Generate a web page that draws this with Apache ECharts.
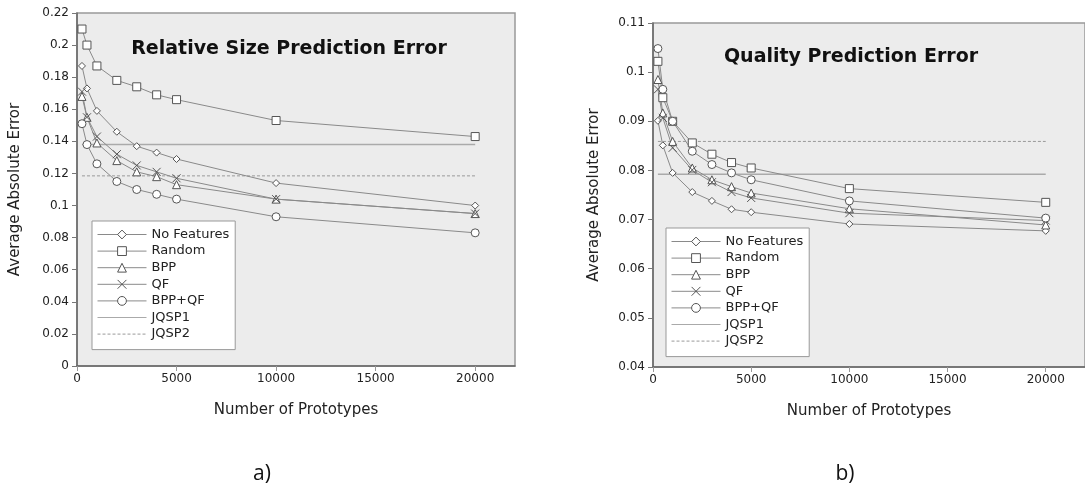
<!DOCTYPE html>
<html>
<head>
    <meta charset="utf-8">
    <title>Prediction error vs prototypes</title>
    <script type="text/javascript" src="https://cdn.jsdelivr.net/npm/echarts@6/dist/echarts.min.js"></script>
    <style>html,body{margin:0;padding:0;background:#fff;}</style>
</head>
<body>
<div id="main" style="width:1085px;height:489px;"></div>

<script type="text/javascript">
    // number of prototypes (x)
    var prototypes = [250, 500, 1000, 2000, 3000, 4000, 5000, 10000, 20000];
    var xTicks = [0, 5000, 10000, 15000, 20000];
    var names = ['No Features', 'Random', 'BPP', 'QF', 'BPP+QF', 'JQSP1', 'JQSP2'];

    // a) relative size prediction error
    var sizeNoFeatures = [0.187, 0.173, 0.159, 0.146, 0.137, 0.133, 0.129, 0.114, 0.100];
    var sizeRandom     = [0.210, 0.200, 0.187, 0.178, 0.174, 0.169, 0.166, 0.153, 0.143];
    var sizeBPP        = [0.168, 0.155, 0.139, 0.128, 0.121, 0.118, 0.113, 0.104, 0.095];
    var sizeQF         = [0.171, 0.155, 0.143, 0.132, 0.125, 0.121, 0.117, 0.104, 0.095];
    var sizeBPPQF      = [0.151, 0.138, 0.126, 0.115, 0.110, 0.107, 0.104, 0.093, 0.083];
    var sizeJQSP1 = 0.138;
    var sizeJQSP2 = 0.1185;

    // b) quality prediction error
    var qualNoFeatures = [0.0901, 0.0851, 0.0795, 0.0756, 0.0738, 0.0721, 0.0715, 0.0691, 0.0677];
    var qualRandom     = [0.1022, 0.0948, 0.0900, 0.0856, 0.0833, 0.0816, 0.0805, 0.0763, 0.0735];
    var qualBPP        = [0.0985, 0.0917, 0.0859, 0.0805, 0.0781, 0.0767, 0.0754, 0.0722, 0.0689];
    var qualQF         = [0.0965, 0.0907, 0.0846, 0.0801, 0.0776, 0.0756, 0.0744, 0.0713, 0.0698];
    var qualBPPQF      = [0.1048, 0.0965, 0.0900, 0.0839, 0.0812, 0.0795, 0.0781, 0.0738, 0.0703];
    var qualJQSP1 = 0.0792;
    var qualJQSP2 = 0.0859;

    var chart = echarts.init(document.getElementById('main'));

    var lineCol = '#8a8a8a';
    var markCol = '#555';
    var symbols = {
        'No Features': ['diamond', 7],
        'Random': ['rect', 8],
        'BPP': ['triangle', 8],
        'QF': ['path://M0,0L10,10M0,10L10,0', 8],
        'BPP+QF': ['circle', 8]
    };

    function pairs(vals) {
        return prototypes.map(function (x, i) { return [x, vals[i]]; });
    }

    function markerSeries(name, vals, idx) {
        return {
            name: name,
            type: 'line',
            xAxisIndex: idx,
            yAxisIndex: idx,
            data: pairs(vals),
            symbol: symbols[name][0],
            symbolSize: symbols[name][1],
            showAllSymbol: true,
            animation: false,
            lineStyle: {color: lineCol, width: 1},
            itemStyle: {color: '#fff', borderColor: markCol, borderWidth: 1}
        };
    }

    function flatSeries(name, val, idx, dashed) {
        return {
            name: name,
            type: 'line',
            xAxisIndex: idx,
            yAxisIndex: idx,
            data: [[prototypes[0], val], [prototypes[prototypes.length - 1], val]],
            symbol: 'none',
            animation: false,
            z: 1,
            lineStyle: {color: dashed ? '#999' : '#aaa', width: dashed ? 1 : 1.5, type: dashed ? [3, 2] : 'solid'},
            itemStyle: {color: dashed ? '#999' : '#aaa'}
        };
    }

    function xAxis(idx) {
        return {
            type: 'value', gridIndex: idx, min: 0, max: 22000,
            name: 'Number of Prototypes', nameLocation: 'middle', nameGap: 37,
            nameTextStyle: {fontFamily: 'DejaVu Sans', fontSize: 15, color: '#222'},
            axisLine: {lineStyle: {color: '#666', width: 1.5}},
            axisTick: {customValues: xTicks, length: 5, lineStyle: {color: '#999'}},
            axisLabel: {
                customValues: xTicks, fontFamily: 'DejaVu Sans', fontSize: 12, color: '#222', margin: 7,
                formatter: function (v) { return String(v); }
            },
            splitLine: {show: false}
        };
    }

    function yAxis(idx, min, max, step, gap) {
        return {
            type: 'value', gridIndex: idx, min: min, max: max, interval: step,
            name: 'Average Absolute Error', nameLocation: 'middle', nameGap: gap,
            nameTextStyle: {fontFamily: 'DejaVu Sans', fontSize: 15, color: '#222'},
            axisLine: {lineStyle: {color: '#666', width: 1.5}},
            axisTick: {length: 5, lineStyle: {color: '#777'}},
            axisLabel: {
                fontFamily: 'DejaVu Sans', fontSize: 12, color: '#222', margin: 8,
                formatter: function (v) { return String(Math.round(v * 100) / 100); }
            },
            splitLine: {show: false}
        };
    }

    function legend(left, top) {
        var items = names.map(function (n) {
            if (n.indexOf('JQSP') === 0) {
                return {name: n, itemStyle: {color: 'transparent', borderColor: 'transparent', borderWidth: 0}};
            }
            return {name: n};
        });
        return {
            data: items, orient: 'vertical', left: left, top: top,
            backgroundColor: '#fff', borderColor: '#999', borderWidth: 1,
            padding: [7, 6, 9, 5], itemWidth: 49, itemHeight: 11, itemGap: 3.6,
            textStyle: {fontFamily: 'DejaVu Sans', fontSize: 13, color: '#222'},
            lineStyle: {width: 1},
            itemStyle: {borderWidth: 1},
            selectedMode: false
        };
    }

    var titleFont = {fontFamily: 'DejaVu Sans', fontWeight: 'bold', fontSize: 19, fill: '#111'};

    var option = {
        backgroundColor: '#fff',
        animation: false,
        grid: [
            {left: 77, top: 13, width: 438, height: 353, show: true, backgroundColor: '#ececec', borderColor: '#999', borderWidth: 1.5},
            {left: 653, top: 23, width: 440, height: 344, show: true, backgroundColor: '#ececec', borderColor: '#999', borderWidth: 1.5}
        ],
        xAxis: [xAxis(0), xAxis(1)],
        yAxis: [yAxis(0, 0, 0.22, 0.02, 54), yAxis(1, 0.04, 0.11, 0.01, 51)],
        legend: [legend(92, 221), legend(666, 228)],
        graphic: [
            {type: 'text', style: Object.assign({text: 'Relative Size Prediction Error', x: 289, y: 49, textAlign: 'center', textVerticalAlign: 'middle'}, titleFont)},
            {type: 'text', style: Object.assign({text: 'Quality Prediction Error', x: 851, y: 57, textAlign: 'center', textVerticalAlign: 'middle'}, titleFont)},
            {type: 'text', style: {text: 'a)', x: 262, y: 474, textAlign: 'center', textVerticalAlign: 'middle', fontFamily: 'Open Sans', fontSize: 21, fill: '#111'}},
            {type: 'text', style: {text: 'b)', x: 845, y: 474, textAlign: 'center', textVerticalAlign: 'middle', fontFamily: 'Open Sans', fontSize: 21, fill: '#111'}}
        ],
        series: [
            flatSeries('JQSP1', sizeJQSP1, 0, false),
            flatSeries('JQSP2', sizeJQSP2, 0, true),
            markerSeries('No Features', sizeNoFeatures, 0),
            markerSeries('Random', sizeRandom, 0),
            markerSeries('BPP', sizeBPP, 0),
            markerSeries('QF', sizeQF, 0),
            markerSeries('BPP+QF', sizeBPPQF, 0),
            flatSeries('JQSP1', qualJQSP1, 1, false),
            flatSeries('JQSP2', qualJQSP2, 1, true),
            markerSeries('No Features', qualNoFeatures, 1),
            markerSeries('Random', qualRandom, 1),
            markerSeries('BPP', qualBPP, 1),
            markerSeries('QF', qualQF, 1),
            markerSeries('BPP+QF', qualBPPQF, 1)
        ]
    };
    chart.setOption(option);
</script>
</body>
</html>
